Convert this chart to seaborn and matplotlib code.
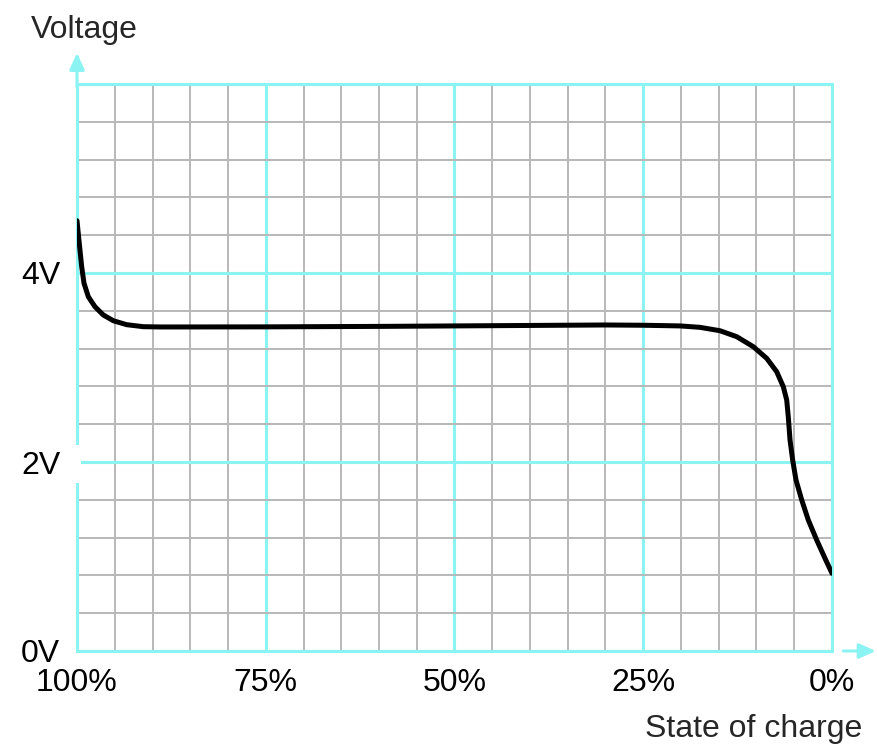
import numpy as np
import matplotlib
matplotlib.use('Agg')
import matplotlib.pyplot as plt
import seaborn as sns
from matplotlib.patches import Rectangle

# state of charge (%) and voltage (V)
soc = [100, 99.70, 99.38, 99.07, 98.50, 97.62, 96.52, 95.19, 93.42, 91.22,
       89.01, 86.62, 75.0, 60.0, 50.0, 40.0, 30.0, 25.0, 20.13, 17.48,
       14.83, 12.62, 10.42, 8.65, 7.33, 6.45, 6.00, 5.79, 5.56, 5.21,
       4.77, 4.01, 3.14, 2.03, 0.93, 0.0]
volt = [4.553, 4.314, 4.067, 3.891, 3.749, 3.643, 3.556, 3.495, 3.453, 3.432,
        3.429, 3.429, 3.430, 3.435, 3.440, 3.445, 3.450, 3.447, 3.440, 3.425,
        3.389, 3.326, 3.220, 3.097, 2.956, 2.797, 2.656, 2.479, 2.233, 2.021,
        1.810, 1.598, 1.386, 1.175, 0.981, 0.822]

x_major = [100, 75, 50, 25, 0]
x_labels = ['100%', '75%', '50%', '25%', '0%']
y_major = [0, 2, 4, 6]
y_labels = ['0V', '2V', '4V', '']

cyan = '#8cf3f3'
grey = '#b8b8b8'

sns.set_style('white')
plt.rcParams['font.family'] = ['Liberation Sans', 'DejaVu Sans']

fig = plt.figure(figsize=(8.77, 7.46), dpi=100)
ax = fig.add_axes([77 / 877, 95 / 746, 755 / 877, 567 / 746])

sns.lineplot(x=soc, y=volt, sort=False, color='black', linewidth=3.6, ax=ax, zorder=5)

ax.set_xlim(100, 0)
ax.set_ylim(0, 6)

ax.set_xticks(x_major)
ax.set_xticklabels(x_labels)
ax.set_xticks(np.arange(0, 101, 5), minor=True)
ax.set_yticks(y_major)
ax.set_yticklabels(y_labels)
ax.set_yticks(np.arange(0, 6.01, 0.4), minor=True)

ax.grid(which='minor', color=grey, linewidth=1.4, zorder=1)
ax.grid(which='major', color=cyan, linewidth=2.2, zorder=2)
ax.set_axisbelow(True)

ax.tick_params(which='both', length=0, labelsize=23, colors='black')
ax.tick_params(axis='x', pad=12)
ax.tick_params(axis='y', pad=12)

for s in ax.spines.values():
    s.set_color(cyan)
    s.set_linewidth(2.2)

# axis arrows
ax.annotate('', xy=(0, 1.055), xytext=(0, 0.995), xycoords='axes fraction',
            arrowprops=dict(arrowstyle='-|>,head_length=1.0,head_width=0.45',
                            color=cyan, lw=2.2, shrinkA=0, shrinkB=0),
            annotation_clip=False)
ax.annotate('', xy=(1.058, 0), xytext=(1.015, 0), xycoords='axes fraction',
            arrowprops=dict(arrowstyle='-|>,head_length=1.0,head_width=0.45',
                            color=cyan, lw=2.2, shrinkA=0, shrinkB=0),
            annotation_clip=False)

# white gap behind the 2V label
ax.add_patch(Rectangle((-0.004, 0.296), 0.0095, 0.067, transform=ax.transAxes,
                       facecolor='white', edgecolor='none', clip_on=False, zorder=10))

ax.set_xlabel('State of charge', fontsize=23, ha='right', va='center')
ax.xaxis.set_label_coords(1.04, -0.137)
ax.set_ylabel('Voltage', fontsize=23, rotation=0, ha='center', va='center')
ax.yaxis.set_label_coords(0.01, 1.095)

fig.savefig('out.png', dpi=100)
